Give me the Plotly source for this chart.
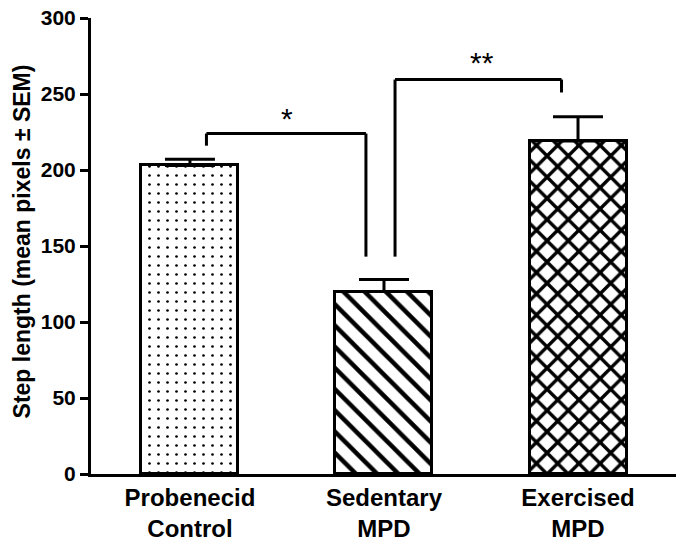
import plotly.graph_objects as go

categories = ["Probenecid<br>Control", "Sedentary<br>MPD", "Exercised<br>MPD"]
means = [203, 120, 219]
sems = [4, 8, 16]
patterns = [".", "\\", "x"]
y_ticks = [0, 50, 100, 150, 200, 250, 300]

xpos = [0, 1, 2]
font = "Liberation Sans, Arial, sans-serif"

fig = go.Figure()
fig.add_trace(go.Bar(
    x=xpos, y=means, width=0.5,
    marker=dict(
        color="white",
        line=dict(color="black", width=3),
        pattern=dict(shape=patterns, fgcolor="black", bgcolor="white", fgopacity=1,
                     size=[9, 15, 15], solidity=[0.07, 0.3, 0.4]),
    ),
    error_y=dict(type="data", symmetric=False, array=sems,
                 arrayminus=[0, 0, 0], width=25, thickness=3, color="black"),
))

line = dict(color="black", width=3)
# significance brackets
fig.add_shape(type="line", x0=0.085, x1=0.085, y0=216, y1=224, line=line)
fig.add_shape(type="line", x0=0.085, x1=0.907, y0=224, y1=224, line=line)
fig.add_shape(type="line", x0=0.907, x1=0.907, y0=224, y1=143, line=line)
fig.add_shape(type="line", x0=1.057, x1=1.057, y0=143, y1=259.5, line=line)
fig.add_shape(type="line", x0=1.057, x1=1.915, y0=259.5, y1=259.5, line=line)
fig.add_shape(type="line", x0=1.915, x1=1.915, y0=259.5, y1=251, line=line)
fig.add_annotation(x=0.5, y=234, text="*", showarrow=False,
                   font=dict(family=font, size=30, color="black"))
fig.add_annotation(x=1.505, y=271, text="**", showarrow=False,
                   font=dict(family=font, size=30, color="black"))
fig.add_annotation(xref="paper", yref="paper", x=-69/585, y=0.51, xanchor="center", yanchor="middle",
                   text="<b>Step length (mean pixels ± SEM)</b>", textangle=-90, showarrow=False,
                   font=dict(family=font, size=23, color="black"))

fig.update_layout(
    width=677, height=543,
    margin=dict(l=83, r=9, t=10, b=77, autoexpand=False),
    paper_bgcolor="white", plot_bgcolor="white",
    showlegend=False,
    font=dict(family=font, color="black"),
    bargap=0,
)
fig.update_xaxes(
    range=[-0.51, 2.505], tickmode="array", tickvals=xpos,
    ticktext=[f"<b>{c}</b>".replace("<br>", "</b><br><b>") for c in categories],
    tickfont=dict(family=font, size=24, color="black"), automargin=False,
    ticklabeloverflow="allow",
    showline=True, linecolor="black", linewidth=3, ticks="", showgrid=False, zeroline=False,
)
fig.update_yaxes(
    range=[0, 300], tickmode="array", tickvals=y_ticks, ticktext=[f"<b>{t}</b>" for t in y_ticks],
    tickfont=dict(family=font, size=21, color="black"), automargin=False,
    ticklabeloverflow="allow",
    showline=True, linecolor="black", linewidth=3, ticks="outside", ticklen=8, tickwidth=3,
    tickcolor="black", showgrid=False, zeroline=False,
)

fig.write_html("out.html")
